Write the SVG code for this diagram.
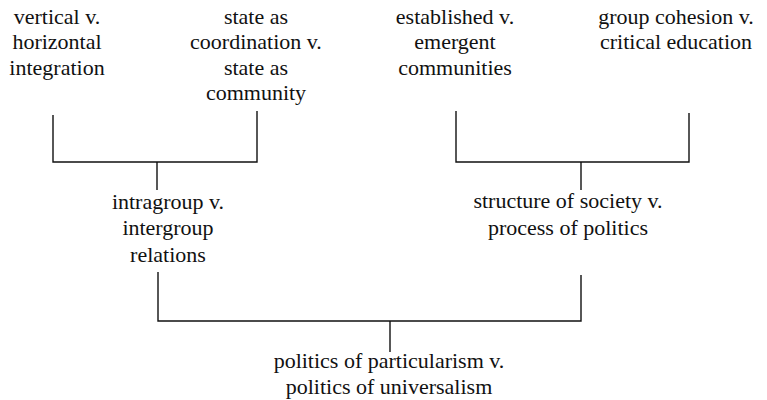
<svg xmlns="http://www.w3.org/2000/svg" width="767" height="400" viewBox="0 0 767 400">
<style>
text{font-family:'Liberation Serif','DejaVu Serif','Noto Serif',serif;font-size:22px;fill:#111;text-anchor:middle}
.c{fill:none;stroke:#111;stroke-width:1.4}
</style>
<rect width="767" height="400" fill="#fff"/>
<g id="connectors">
<path class="c" d="M53,115V162H257V111"/>
<path class="c" d="M157,162V190"/>
<path class="c" d="M456,111V162H689V113"/>
<path class="c" d="M581,162V190"/>
<path class="c" d="M158,272V321H581V275"/>
<path class="c" d="M390,321V352"/>
</g>
<g id="n1"><text x="57" y="24">vertical v.</text><text x="57" y="49">horizontal</text><text x="57" y="75">integration</text></g>
<g id="n2"><text x="256" y="24">state as</text><text x="256" y="49">coordination v.</text><text x="256" y="75">state as</text><text x="256" y="100">community</text></g>
<g id="n3"><text x="455" y="24">established v.</text><text x="455" y="49">emergent</text><text x="455" y="75">communities</text></g>
<g id="n4"><text x="676" y="24">group cohesion v.</text><text x="676" y="49">critical education</text></g>
<g id="n5"><text x="168" y="209">intragroup v.</text><text x="168" y="235">intergroup</text><text x="168" y="262">relations</text></g>
<g id="n6"><text x="568" y="208">structure of society v.</text><text x="568" y="235">process of politics</text></g>
<g id="n7"><text x="389" y="368">politics of particularism v.</text><text x="389" y="394">politics of universalism</text></g>
</svg>
